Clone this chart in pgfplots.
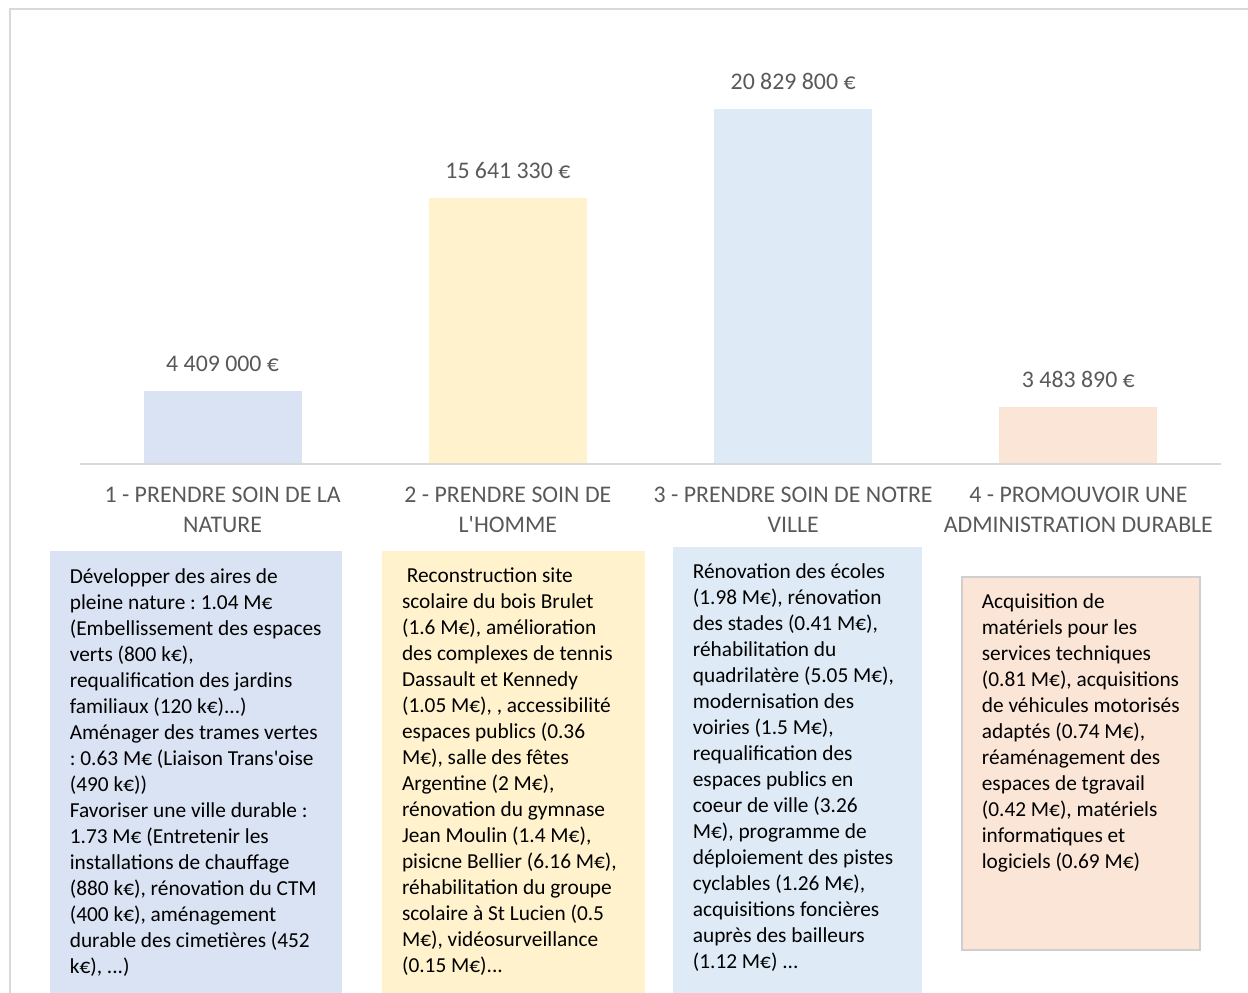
\documentclass[border=0pt]{standalone}
\usepackage{fontspec}
\setmainfont{Carlito}
\newfontfamily\rawcarlito{Carlito}
\usepackage{pgfplots}
\pgfplotsset{compat=1.18}

\definecolor{natureFill}{HTML}{DAE3F3}
\definecolor{hommeFill}{HTML}{FFF2CC}
\definecolor{villeFill}{HTML}{DEEBF7}
\definecolor{adminFill}{HTML}{FBE5D6}
\definecolor{labelGray}{HTML}{595959}
\definecolor{lineGray}{HTML}{D9D9D9}
\definecolor{boxBorder}{HTML}{D0CECE}

\frenchspacing
% straight apostrophe, without the TeX quote mapping
\newcommand\apos{{\rawcarlito'}}
\newcommand\catfont{\fontsize{14.3pt}{18pt}\selectfont}
\newcommand\valfont{\fontsize{14.3pt}{17pt}\selectfont}
\newcommand\boxfont{\fontsize{12.8pt}{15.6pt}\selectfont}
\newcommand\catlab[2]{\parbox[t]{200pt}{\catfont\centering #1\\#2}}

\begin{document}
\begin{tikzpicture}
\useasboundingbox (0pt,0pt) rectangle (748.8pt,-595.8pt);

% outer frame
\draw[lineGray, line width=1.2pt] (5.7pt,-600pt) -- (5.7pt,-5.7pt) -- (760pt,-5.7pt);

\begin{axis}[
  at={(48pt,-278.4pt)}, anchor=south west,
  scale only axis, width=684.6pt, height=273pt,
  xmin=-0.5, xmax=3.5, ymin=157200, ymax=26652000,
  enlargelimits=false,
  axis y line=none,
  axis x line*=bottom,
  x axis line style={draw=lineGray, line width=1.2pt, -},
  axis on top,
  xtick={0,1,2,3},
  xticklabels={
    {\catlab{1 - PRENDRE SOIN DE LA}{NATURE}},
    {\catlab{2 - PRENDRE SOIN DE}{L\apos HOMME}},
    {\catlab{3 - PRENDRE SOIN DE NOTRE}{VILLE}},
    {\catlab{4 - PROMOUVOIR UNE}{ADMINISTRATION DURABLE}}},
  major tick length=0pt,
  xticklabel style={anchor=base, inner sep=0pt, yshift=-22.8pt, text=labelGray},
  ybar, bar width=0.554,
  nodes near coords={\pgfmathprintnumber[fixed, precision=0, 1000 sep={\ }, assume math mode=true]{\pgfplotspointmeta}\ €},
  every node near coord/.append style={anchor=base, inner sep=0pt, yshift=11.7pt, font=\valfont, text=labelGray},
  clip=true,
]
\addplot[bar shift=0pt, fill=natureFill, draw=none] coordinates {(0,4409000)};
\addplot[bar shift=0pt, fill=hommeFill, draw=none] coordinates {(1,15641330)};
\addplot[bar shift=0pt, fill=villeFill, draw=none] coordinates {(2,20829800)};
\addplot[bar shift=0pt, fill=adminFill, draw=none] coordinates {(3,3483890)};
\end{axis}

% detail boxes under each theme
\begin{scope}[x=0.6pt, y=-0.6pt]
\fill[natureFill] (50,551) rectangle (342,1000);
\fill[hommeFill] (382,551) rectangle (645,1000);
\fill[villeFill] (673,547) rectangle (922,1000);
\filldraw[fill=adminFill, draw=boxBorder, line width=1.2pt] (962,577) rectangle (1200,950);

\node[anchor=base west, inner sep=0pt] at (69.5,583) {\parbox[t]{180pt}{\boxfont\raggedright
Développer des aires de\\
pleine nature : 1.04 M€\\
(Embellissement des espaces\\
verts (800 k€),\\
requalification des jardins\\
familiaux (120 k€)...)\\
Aménager des trames vertes\\
: 0.63 M€ (Liaison Trans\apos oise\\
(490 k€))\\
Favoriser une ville durable :\\
1.73 M€ (Entretenir les\\
installations de chauffage\\
(880 k€), rénovation du CTM\\
(400 k€), aménagement\\
durable des cimetières (452\\
k€), ...)}};

\node[anchor=base west, inner sep=0pt] at (401.7,582) {\parbox[t]{160pt}{\boxfont\raggedright
\ Reconstruction site\\
scolaire du bois Brulet\\
(1.6 M€), amélioration\\
des complexes de tennis\\
Dassault et Kennedy\\
(1.05 M€), , accessibilité\\
espaces publics (0.36\\
M€), salle des fêtes\\
Argentine (2 M€),\\
rénovation du gymnase\\
Jean Moulin (1.4 M€),\\
pisicne Bellier (6.16 M€),\\
réhabilitation du groupe\\
scolaire à St Lucien (0.5\\
M€), vidéosurveillance\\
(0.15 M€)...}};

\node[anchor=base west, inner sep=0pt] at (692.5,578) {\parbox[t]{160pt}{\boxfont\raggedright
Rénovation des écoles\\
(1.98 M€), rénovation\\
des stades (0.41 M€),\\
réhabilitation du\\
quadrilatère (5.05 M€),\\
modernisation des\\
voiries (1.5 M€),\\
requalification des\\
espaces publics en\\
coeur de ville (3.26\\
M€), programme de\\
déploiement des pistes\\
cyclables (1.26 M€),\\
acquisitions foncières\\
auprès des bailleurs\\
(1.12 M€) ...}};

\node[anchor=base west, inner sep=0pt] at (981.5,608.5) {\parbox[t]{160pt}{\boxfont\raggedright
Acquisition de\\
matériels pour les\\
services techniques\\
(0.81 M€), acquisitions\\
de véhicules motorisés\\
adaptés (0.74 M€),\\
réaménagement des\\
espaces de tgravail\\
(0.42 M€), matériels\\
informatiques et\\
logiciels (0.69 M€)}};
\end{scope}
\end{tikzpicture}
\end{document}
